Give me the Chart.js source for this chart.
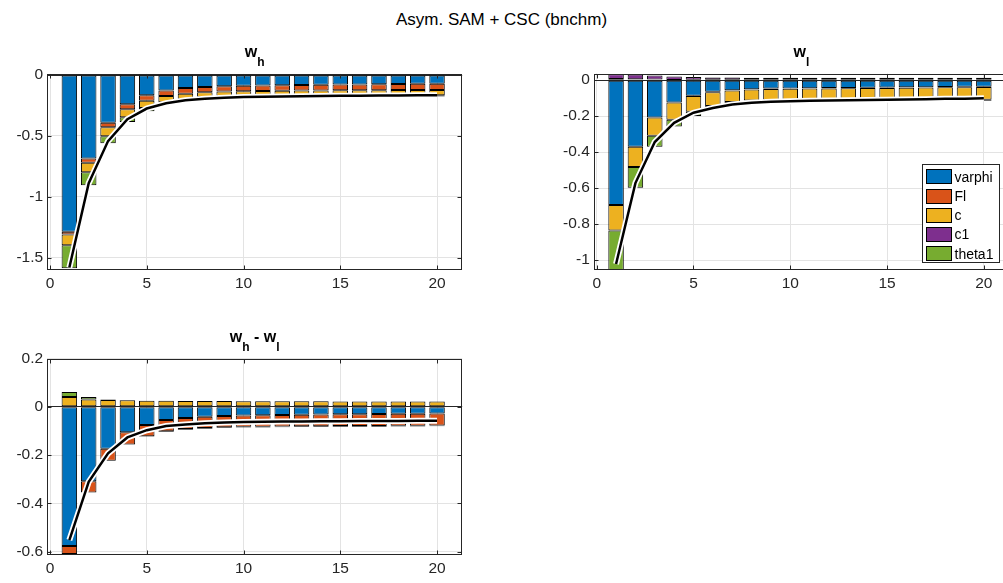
<!DOCTYPE html>
<html>
<head>
<meta charset="utf-8">
<script src="https://cdn.jsdelivr.net/npm/chart.js@4.4.1/dist/chart.umd.min.js"></script>
<style>
  html, body { margin: 0; padding: 0; background: #fff; overflow: hidden; }
  body { width: 1003px; height: 583px; position: relative; }
  canvas { position: absolute; }
  #title { position: absolute; left: 0; top: 10px; width: 1003px; text-align: center;
           font: 17px 'Liberation Sans', Arial, sans-serif; color: #000; }
</style>
</head>
<body>
<div id="title">Asym. SAM + CSC (bnchm)</div>
<canvas id="whChart" width="470" height="265" style="left:0;top:30px;width:470px;height:265px"></canvas>
<canvas id="wlChart" width="475" height="265" style="left:540px;top:30px;width:475px;height:265px"></canvas>
<canvas id="diffChart" width="470" height="265" style="left:0;top:315px;width:470px;height:265px"></canvas>
<script>
// ===== Data =====
const steps = [1, 2, 3, 4, 5, 6, 7, 8, 9, 10, 11, 12, 13, 14, 15, 16, 17, 18, 19, 20];
const seriesNames = ['varphi', 'Fl', 'c', 'c1', 'theta1'];
const seriesColors = ['#0072BD', '#D95319', '#EDB120', '#7E2F8E', '#77AC30'];
const xTicks = [0, 5, 10, 15, 20];

// w_h
const whVarphi = [-1.287, -0.686, -0.391, -0.240, -0.167, -0.128, -0.107, -0.098, -0.093, -0.089, -0.086, -0.084, -0.082, -0.080, -0.078, -0.077, -0.075, -0.074, -0.072, -0.071];
const whFl = [-0.022, -0.033, -0.038, -0.041, -0.044, -0.044, -0.046, -0.044, -0.042, -0.044, -0.045, -0.046, -0.046, -0.047, -0.048, -0.048, -0.049, -0.049, -0.050, -0.051];
const whC = [-0.087, -0.079, -0.074, -0.066, -0.060, -0.052, -0.044, -0.038, -0.037, -0.036, -0.037, -0.037, -0.038, -0.038, -0.039, -0.040, -0.040, -0.041, -0.042, -0.043];
const whC1 = [0.006, 0.005, 0.005, 0.004, 0.004, 0.004, 0.004, 0.004, 0.004, 0.004, 0.004, 0.004, 0.004, 0.004, 0.004, 0.004, 0.004, 0.004, 0.004, 0.004];
const whTheta1 = [-0.19, -0.106, -0.057, -0.038, -0.027, -0.014, -0.011, -0.009, -0.009, -0.009, -0.009, -0.009, -0.010, -0.010, -0.010, -0.010, -0.011, -0.011, -0.011, -0.012];
const whTotal = [-1.58, -0.888, -0.542, -0.362, -0.275, -0.232, -0.207, -0.194, -0.186, -0.181, -0.178, -0.176, -0.174, -0.172, -0.171, -0.170, -0.169, -0.168, -0.167, -0.166];
const whYTicks = [-1.5, -1, -0.5, 0];

// w_l
const wlVarphi = [-0.694, -0.370, -0.207, -0.124, -0.087, -0.065, -0.056, -0.050, -0.047, -0.046, -0.045, -0.044, -0.043, -0.042, -0.041, -0.040, -0.039, -0.038, -0.037, -0.036];
const wlFl = [0.006, 0.005, 0.003, 0.001, -0.001, -0.002, -0.002, -0.002, -0.002, -0.002, -0.002, -0.002, -0.002, -0.002, -0.002, -0.002, -0.002, -0.002, -0.002, -0.002];
const wlC = [-0.141, -0.113, -0.102, -0.096, -0.087, -0.076, -0.064, -0.061, -0.061, -0.062, -0.062, -0.063, -0.064, -0.065, -0.066, -0.067, -0.068, -0.069, -0.070, -0.071];
const wlC1 = [0.027, 0.026, 0.023, 0.019, 0.017, 0.015, 0.015, 0.014, 0.014, 0.014, 0.014, 0.014, 0.014, 0.014, 0.014, 0.014, 0.014, 0.014, 0.014, 0.014];
const wlTheta1 = [-0.225, -0.115, -0.061, -0.037, -0.024, -0.018, -0.017, -0.014, -0.012, -0.011, -0.010, -0.010, -0.009, -0.009, -0.008, -0.008, -0.007, -0.007, -0.007, -0.006];
const wlTotal = [-1.022, -0.572, -0.344, -0.237, -0.181, -0.155, -0.135, -0.125, -0.120, -0.117, -0.115, -0.113, -0.112, -0.110, -0.109, -0.107, -0.106, -0.104, -0.103, -0.101];
const wlYTicks = [-1, -0.8, -0.6, -0.4, -0.2, 0];

// w_h - w_l
const dVarphi = [-0.577, -0.308, -0.174, -0.106, -0.075, -0.055, -0.046, -0.041, -0.038, -0.036, -0.035, -0.034, -0.033, -0.032, -0.031, -0.031, -0.030, -0.029, -0.029, -0.028];
const dFl = [-0.033, -0.047, -0.050, -0.050, -0.047, -0.046, -0.046, -0.047, -0.047, -0.047, -0.048, -0.048, -0.048, -0.049, -0.049, -0.049, -0.050, -0.050, -0.050, -0.050];
const dC = [0.040, 0.030, 0.028, 0.027, 0.025, 0.025, 0.024, 0.024, 0.024, 0.023, 0.023, 0.023, 0.023, 0.023, 0.022, 0.022, 0.022, 0.022, 0.022, 0.022];
const dC1 = [0, 0, 0, 0, 0, 0, 0, 0, 0, 0, 0, 0, 0, 0, 0, 0, 0, 0, 0, 0];
const dTheta1 = [0.021, 0.010, 0.002, -0.001, -0.002, -0.003, -0.003, -0.003, -0.003, -0.003, -0.003, -0.003, -0.003, -0.003, -0.003, -0.003, -0.003, -0.003, -0.003, -0.003];
const dTotal = [-0.552, -0.311, -0.193, -0.127, -0.097, -0.080, -0.073, -0.068, -0.065, -0.063, -0.062, -0.061, -0.061, -0.060, -0.060, -0.059, -0.059, -0.059, -0.058, -0.058];
const dYTicks = [-0.6, -0.4, -0.2, 0, 0.2];

// ===== Helpers =====
const FONT = "'Liberation Sans', Arial, sans-serif";
const AXIS_COLOR = '#262626';
const GRID_COLOR = '#e3e3e3';

const pairs = vals => steps.map((s, i) => ({ x: s, y: vals[i] }));

// axes box, inward ticks, tex-like title, legend
const framePlugin = {
    id: 'frame',
    afterDatasetsDraw(chart, args, opts) {
        const { ctx, chartArea: a, scales } = chart;
        ctx.save();
        ctx.strokeStyle = AXIS_COLOR;
        ctx.lineWidth = 1;
        const L = Math.round(a.left) + 0.5, R = Math.round(a.right) - 0.5;
        const T = Math.round(a.top) + 0.5, B = Math.round(a.bottom) - 0.5;
        ctx.strokeRect(L, T, R - L, B - T);
        ctx.beginPath();
        scales.x.ticks.forEach(t => {
            const px = Math.round(scales.x.getPixelForValue(t.value)) + 0.5;
            ctx.moveTo(px, B); ctx.lineTo(px, B - 4);
            ctx.moveTo(px, T); ctx.lineTo(px, T + 4);
        });
        scales.y.ticks.forEach(t => {
            const py = Math.round(scales.y.getPixelForValue(t.value)) + 0.5;
            ctx.moveTo(L, py); ctx.lineTo(L + 4, py);
            ctx.moveTo(R, py); ctx.lineTo(R - 4, py);
        });
        ctx.stroke();

        // title with subscripts
        const mainFont = 'bold 16px ' + FONT, subFont = 'bold 12px ' + FONT;
        let width = 0;
        opts.title.forEach(seg => {
            ctx.font = mainFont; width += ctx.measureText(seg.t).width;
            if (seg.sub) { ctx.font = subFont; width += ctx.measureText(seg.sub).width; }
        });
        let x = (a.left + a.right) / 2 - width / 2;
        const base = a.top - 17;
        ctx.fillStyle = '#000';
        ctx.textBaseline = 'alphabetic';
        ctx.textAlign = 'left';
        opts.title.forEach(seg => {
            ctx.font = mainFont; ctx.fillText(seg.t, x, base); x += ctx.measureText(seg.t).width;
            if (seg.sub) { ctx.font = subFont; ctx.fillText(seg.sub, x, base + 9); x += ctx.measureText(seg.sub).width; }
        });

        // legend
        if (opts.legend) {
            const lx = Math.round(a.right - 87) + 0.5, ly = Math.round(a.top + 90) + 0.5;
            ctx.fillStyle = '#fff';
            ctx.fillRect(lx, ly, 77, 98);
            ctx.strokeStyle = AXIS_COLOR;
            ctx.strokeRect(lx, ly, 77, 98);
            ctx.font = '14px ' + FONT;
            ctx.textBaseline = 'middle';
            seriesNames.forEach((name, i) => {
                const cy = ly + 12.4 + i * 19.2;
                ctx.fillStyle = seriesColors[i];
                ctx.fillRect(Math.round(lx + 3), Math.round(cy - 7.5), 26, 15);
                ctx.strokeStyle = '#000';
                ctx.strokeRect(Math.round(lx + 3) + 0.5, Math.round(cy - 7.5) + 0.5, 25, 14);
                ctx.fillStyle = '#000';
                ctx.fillText(name, lx + 32, cy + 1);
            });
        }
        ctx.restore();
    }
};

function buildPanel(id, p) {
    const series = [p.varphi, p.fl, p.c, p.c1, p.theta1];
    const datasets = [
        { type: 'line', data: pairs(p.total), borderColor: '#000', borderWidth: 2.5, pointRadius: 0, fill: false, stack: 'totalK', order: 0 },
        { type: 'line', data: pairs(p.total), borderColor: '#fff', borderWidth: 6, pointRadius: 0, fill: false, stack: 'totalW', order: 1 }
    ];
    series.forEach((vals, i) => datasets.push({
        type: 'bar',
        label: seriesNames[i],
        data: pairs(vals),
        backgroundColor: seriesColors[i],
        borderColor: '#000',
        borderWidth: 1,
        borderSkipped: false,
        barPercentage: 0.8,
        categoryPercentage: 1,
        order: 2
    }));

    const tickFont = { family: FONT, size: 15.5 };
    new Chart(document.getElementById(id), {
        type: 'bar',
        data: { datasets },
        plugins: [framePlugin],
        options: {
            responsive: false,
            animation: false,
            events: [],
            layout: { padding: { top: p.padTop, right: p.padRight, left: 0, bottom: 0 } },
            plugins: {
                legend: { display: false },
                tooltip: { enabled: false },
                frame: { title: p.title, legend: p.legend }
            },
            scales: {
                x: {
                    type: 'linear', stacked: true, offset: false, min: -0.15, max: 21.3,
                    grid: { color: GRID_COLOR, drawTicks: false, offset: false },
                    border: { display: false },
                    ticks: { font: tickFont, color: AXIS_COLOR, padding: 4, maxRotation: 0, autoSkip: false, callback: v => String(v) },
                    afterBuildTicks: s => { s.ticks = xTicks.map(v => ({ value: v })); },
                    afterFit: s => { s.height = p.xAxisHeight; s.paddingLeft = 0; s.paddingRight = 0; }
                },
                y: {
                    stacked: true, min: p.yMin, max: p.yMax,
                    grid: { color: c => (c.tick && c.tick.value === 0 ? AXIS_COLOR : GRID_COLOR), drawTicks: false },
                    border: { display: false },
                    ticks: { font: tickFont, color: AXIS_COLOR, padding: 4, autoSkip: false, callback: v => String(v) },
                    afterBuildTicks: s => { s.ticks = p.yTicks.map(v => ({ value: v })); },
                    afterFit: s => { s.width = p.yAxisWidth; s.paddingTop = 0; s.paddingBottom = 0; }
                }
            }
        }
    });
}

// ===== w_h =====
buildPanel('whChart', {
    varphi: whVarphi, fl: whFl, c: whC, c1: whC1, theta1: whTheta1, total: whTotal,
    yTicks: whYTicks, yMin: -1.6, yMax: 0.01,
    yAxisWidth: 47.1, xAxisHeight: 25, padTop: 43.8, padRight: 7.8,
    title: [{ t: 'w', sub: 'h' }], legend: false
});

// ===== w_l =====
buildPanel('wlChart', {
    varphi: wlVarphi, fl: wlFl, c: wlC, c1: wlC1, theta1: wlTheta1, total: wlTotal,
    yTicks: wlYTicks, yMin: -1.055, yMax: 0.037,
    yAxisWidth: 53.8, xAxisHeight: 25, padTop: 43.5, padRight: 6,
    title: [{ t: 'w', sub: 'l' }], legend: true
});

// ===== w_h - w_l =====
buildPanel('diffChart', {
    varphi: dVarphi, fl: dFl, c: dC, c1: dC1, theta1: dTheta1, total: dTotal,
    yTicks: dYTicks, yMin: -0.614, yMax: 0.2,
    yAxisWidth: 47.1, xAxisHeight: 25, padTop: 43.5, padRight: 7.8,
    title: [{ t: 'w', sub: 'h' }, { t: ' - ' }, { t: 'w', sub: 'l' }], legend: false
});
</script>
</body>
</html>
